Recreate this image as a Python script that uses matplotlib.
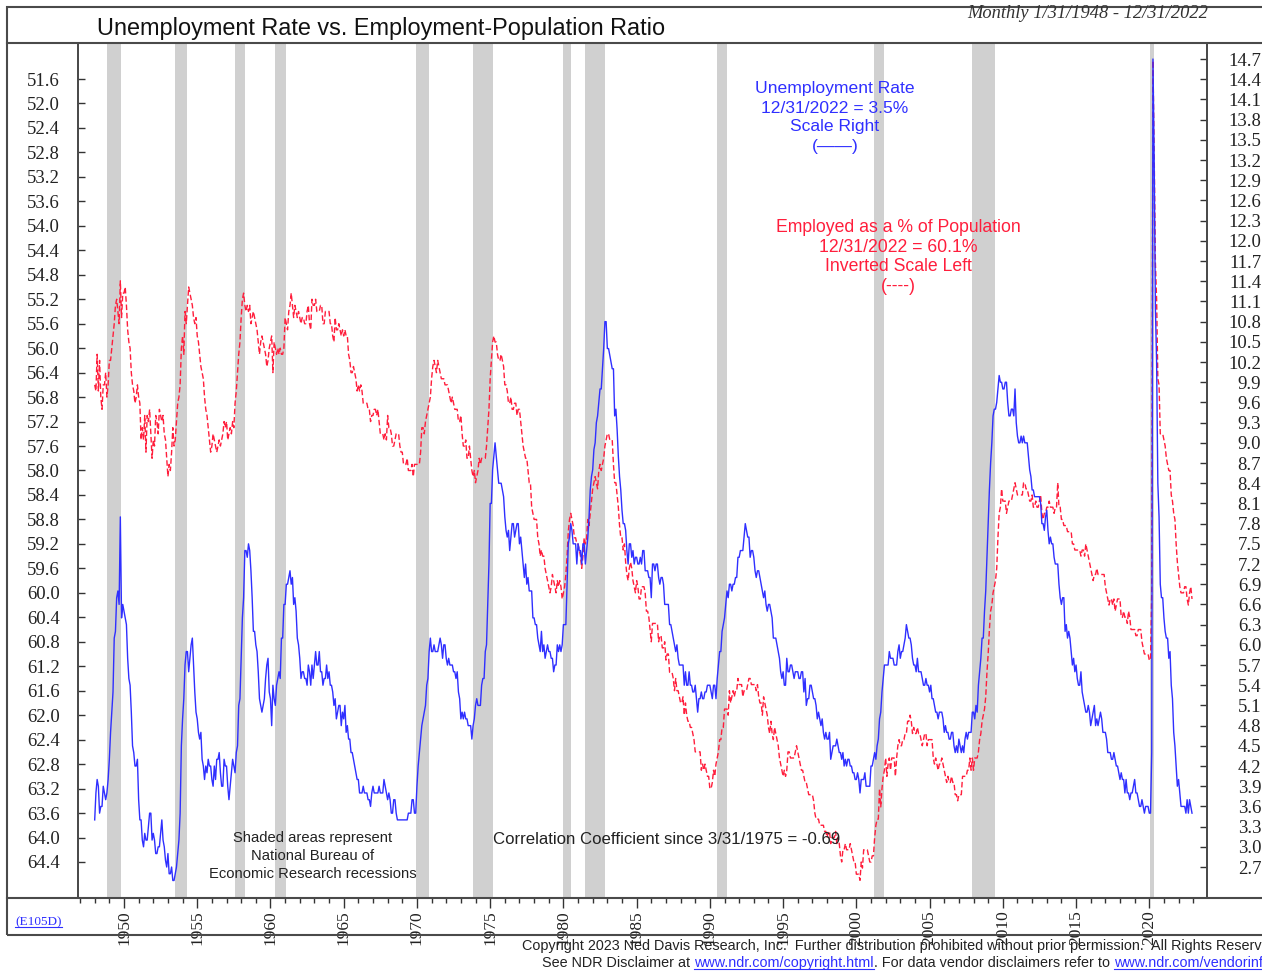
import numpy as np
import matplotlib.pyplot as plt
from matplotlib.lines import Line2D
from matplotlib.patches import Rectangle

plt.rcParams['font.family'] = ['Liberation Sans', 'DejaVu Sans']

W, H = 1262, 972

# Unemployment rate (%), monthly, 1948-01 .. 2022-12, one row per year
unemployment = [
    3.4, 3.8, 4.0, 3.9, 3.5, 3.6, 3.6, 3.9, 3.8, 3.7, 3.8, 4.0,  # 1948
    4.3, 4.7, 5.0, 5.3, 6.1, 6.2, 6.7, 6.8, 6.6, 7.9, 6.4, 6.6,  # 1949
    6.5, 6.4, 6.3, 5.8, 5.5, 5.4, 5.0, 4.5, 4.4, 4.2, 4.2, 4.3,  # 1950
    3.7, 3.4, 3.4, 3.1, 3.0, 3.2, 3.1, 3.1, 3.3, 3.5, 3.5, 3.1,  # 1951
    3.2, 3.1, 2.9, 2.9, 3.0, 3.0, 3.2, 3.4, 3.1, 3.0, 2.8, 2.7,  # 1952
    2.9, 2.6, 2.6, 2.7, 2.5, 2.5, 2.6, 2.7, 2.9, 3.1, 3.5, 4.5,  # 1953
    4.9, 5.2, 5.7, 5.9, 5.9, 5.6, 5.8, 6.0, 6.1, 5.7, 5.3, 5.0,  # 1954
    4.9, 4.7, 4.6, 4.7, 4.3, 4.2, 4.0, 4.2, 4.1, 4.3, 4.2, 4.2,  # 1955
    4.0, 3.9, 4.2, 4.0, 4.3, 4.3, 4.4, 4.1, 3.9, 3.9, 4.3, 4.2,  # 1956
    4.2, 3.9, 3.7, 3.9, 4.1, 4.3, 4.2, 4.1, 4.4, 4.5, 5.1, 5.2,  # 1957
    5.8, 6.4, 6.7, 7.4, 7.4, 7.3, 7.5, 7.4, 7.1, 6.7, 6.2, 6.2,  # 1958
    6.0, 5.9, 5.6, 5.2, 5.1, 5.0, 5.1, 5.2, 5.5, 5.7, 5.8, 5.3,  # 1959
    5.2, 4.8, 5.4, 5.2, 5.1, 5.4, 5.5, 5.6, 5.5, 6.1, 6.1, 6.6,  # 1960
    6.6, 6.9, 6.9, 7.0, 7.1, 6.9, 7.0, 6.6, 6.7, 6.5, 6.1, 6.0,  # 1961
    5.8, 5.5, 5.6, 5.6, 5.5, 5.5, 5.4, 5.7, 5.6, 5.4, 5.7, 5.5,  # 1962
    5.7, 5.9, 5.7, 5.7, 5.9, 5.6, 5.6, 5.4, 5.5, 5.5, 5.7, 5.5,  # 1963
    5.6, 5.4, 5.4, 5.3, 5.1, 5.2, 4.9, 5.0, 5.1, 5.1, 4.8, 5.0,  # 1964
    4.9, 5.1, 4.7, 4.8, 4.6, 4.6, 4.4, 4.4, 4.3, 4.2, 4.1, 4.0,  # 1965
    4.0, 3.8, 3.8, 3.8, 3.9, 3.8, 3.8, 3.8, 3.7, 3.7, 3.6, 3.8,  # 1966
    3.9, 3.8, 3.8, 3.8, 3.8, 3.9, 3.8, 3.8, 3.8, 4.0, 3.9, 3.8,  # 1967
    3.7, 3.8, 3.7, 3.5, 3.5, 3.7, 3.7, 3.5, 3.4, 3.4, 3.4, 3.4,  # 1968
    3.4, 3.4, 3.4, 3.4, 3.4, 3.5, 3.5, 3.5, 3.7, 3.7, 3.5, 3.5,  # 1969
    3.9, 4.2, 4.4, 4.6, 4.8, 4.9, 5.0, 5.1, 5.4, 5.5, 5.9, 6.1,  # 1970
    5.9, 5.9, 6.0, 5.9, 5.9, 5.9, 6.0, 6.1, 6.0, 5.8, 6.0, 6.0,  # 1971
    5.8, 5.7, 5.8, 5.7, 5.7, 5.7, 5.6, 5.6, 5.5, 5.6, 5.3, 5.2,  # 1972
    4.9, 5.0, 4.9, 5.0, 4.9, 4.9, 4.8, 4.8, 4.8, 4.6, 4.8, 4.9,  # 1973
    5.1, 5.2, 5.1, 5.1, 5.1, 5.4, 5.5, 5.5, 5.9, 6.0, 6.6, 7.2,  # 1974
    8.1, 8.1, 8.6, 8.8, 9.0, 8.8, 8.6, 8.4, 8.4, 8.4, 8.3, 8.2,  # 1975
    7.9, 7.7, 7.6, 7.7, 7.4, 7.6, 7.8, 7.8, 7.6, 7.7, 7.8, 7.8,  # 1976
    7.5, 7.6, 7.4, 7.2, 7.0, 7.2, 6.9, 7.0, 6.8, 6.8, 6.8, 6.4,  # 1977
    6.4, 6.3, 6.3, 6.1, 6.0, 5.9, 6.2, 5.9, 6.0, 5.8, 5.9, 6.0,  # 1978
    5.9, 5.9, 5.8, 5.8, 5.6, 5.7, 5.7, 6.0, 5.9, 6.0, 5.9, 6.0,  # 1979
    6.3, 6.3, 6.3, 6.9, 7.5, 7.6, 7.8, 7.7, 7.5, 7.5, 7.5, 7.2,  # 1980
    7.5, 7.4, 7.4, 7.2, 7.5, 7.5, 7.2, 7.4, 7.6, 7.9, 8.3, 8.5,  # 1981
    8.6, 8.9, 9.0, 9.3, 9.4, 9.6, 9.8, 9.8, 10.1, 10.4, 10.8, 10.8,  # 1982
    10.4, 10.4, 10.3, 10.2, 10.1, 10.1, 9.4, 9.5, 9.2, 8.8, 8.5, 8.3,  # 1983
    8.0, 7.8, 7.8, 7.7, 7.4, 7.2, 7.5, 7.5, 7.3, 7.4, 7.2, 7.3,  # 1984
    7.3, 7.2, 7.2, 7.3, 7.2, 7.4, 7.4, 7.1, 7.1, 7.1, 7.0, 7.0,  # 1985
    6.7, 7.2, 7.2, 7.1, 7.2, 7.2, 7.0, 6.9, 7.0, 7.0, 6.9, 6.6,  # 1986
    6.6, 6.6, 6.6, 6.3, 6.3, 6.2, 6.1, 6.0, 5.9, 6.0, 5.8, 5.7,  # 1987
    5.7, 5.7, 5.7, 5.4, 5.6, 5.4, 5.4, 5.6, 5.4, 5.4, 5.3, 5.3,  # 1988
    5.4, 5.2, 5.0, 5.2, 5.2, 5.3, 5.2, 5.2, 5.3, 5.3, 5.4, 5.4,  # 1989
    5.4, 5.3, 5.2, 5.4, 5.4, 5.2, 5.5, 5.7, 5.9, 5.9, 6.2, 6.3,  # 1990
    6.4, 6.6, 6.8, 6.7, 6.9, 6.9, 6.8, 6.9, 6.9, 7.0, 7.0, 7.3,  # 1991
    7.3, 7.4, 7.4, 7.4, 7.6, 7.8, 7.7, 7.6, 7.6, 7.3, 7.4, 7.4,  # 1992
    7.3, 7.1, 7.0, 7.1, 7.1, 7.0, 6.9, 6.8, 6.7, 6.8, 6.6, 6.5,  # 1993
    6.6, 6.6, 6.5, 6.4, 6.1, 6.1, 6.1, 6.0, 5.9, 5.8, 5.6, 5.5,  # 1994
    5.6, 5.4, 5.4, 5.8, 5.6, 5.6, 5.7, 5.7, 5.6, 5.5, 5.6, 5.6,  # 1995
    5.6, 5.5, 5.5, 5.6, 5.6, 5.3, 5.5, 5.1, 5.2, 5.2, 5.4, 5.4,  # 1996
    5.3, 5.2, 5.2, 5.1, 4.9, 5.0, 4.9, 4.8, 4.9, 4.7, 4.6, 4.7,  # 1997
    4.6, 4.6, 4.7, 4.3, 4.4, 4.5, 4.5, 4.5, 4.6, 4.5, 4.4, 4.4,  # 1998
    4.3, 4.4, 4.2, 4.3, 4.2, 4.3, 4.3, 4.2, 4.2, 4.1, 4.1, 4.0,  # 1999
    4.0, 4.1, 4.0, 3.8, 4.0, 4.0, 4.0, 4.1, 3.9, 3.9, 3.9, 3.9,  # 2000
    4.2, 4.2, 4.3, 4.4, 4.3, 4.5, 4.6, 4.9, 5.0, 5.3, 5.5, 5.7,  # 2001
    5.7, 5.7, 5.7, 5.9, 5.8, 5.8, 5.8, 5.7, 5.7, 5.7, 5.9, 6.0,  # 2002
    5.8, 5.9, 5.9, 6.0, 6.1, 6.3, 6.2, 6.1, 6.1, 6.0, 5.8, 5.7,  # 2003
    5.7, 5.6, 5.8, 5.6, 5.6, 5.6, 5.5, 5.4, 5.4, 5.5, 5.4, 5.4,  # 2004
    5.3, 5.4, 5.2, 5.2, 5.1, 5.0, 5.0, 4.9, 5.0, 5.0, 5.0, 4.9,  # 2005
    4.7, 4.8, 4.7, 4.7, 4.6, 4.6, 4.7, 4.7, 4.5, 4.4, 4.5, 4.4,  # 2006
    4.6, 4.5, 4.4, 4.5, 4.4, 4.6, 4.7, 4.6, 4.7, 4.7, 4.7, 5.0,  # 2007
    5.0, 4.9, 5.1, 5.0, 5.4, 5.6, 5.8, 6.1, 6.1, 6.5, 6.8, 7.3,  # 2008
    7.8, 8.3, 8.7, 9.0, 9.4, 9.5, 9.5, 9.6, 9.8, 10.0, 9.9, 9.9,  # 2009
    9.8, 9.8, 9.9, 9.9, 9.6, 9.4, 9.4, 9.5, 9.5, 9.4, 9.8, 9.3,  # 2010
    9.1, 9.0, 9.0, 9.1, 9.0, 9.1, 9.0, 9.0, 9.0, 8.8, 8.6, 8.5,  # 2011
    8.3, 8.3, 8.2, 8.2, 8.2, 8.2, 8.2, 8.1, 7.8, 7.8, 7.7, 7.9,  # 2012
    8.0, 7.7, 7.5, 7.6, 7.5, 7.5, 7.3, 7.2, 7.2, 7.2, 6.9, 6.7,  # 2013
    6.6, 6.7, 6.7, 6.2, 6.3, 6.1, 6.2, 6.1, 5.9, 5.7, 5.8, 5.6,  # 2014
    5.7, 5.5, 5.4, 5.4, 5.6, 5.3, 5.2, 5.1, 5.0, 5.0, 5.1, 5.0,  # 2015
    4.8, 4.9, 5.0, 5.1, 4.8, 4.9, 4.8, 4.9, 5.0, 4.9, 4.7, 4.7,  # 2016
    4.7, 4.6, 4.4, 4.4, 4.4, 4.3, 4.3, 4.4, 4.3, 4.2, 4.2, 4.1,  # 2017
    4.0, 4.1, 4.0, 4.0, 3.8, 4.0, 3.8, 3.8, 3.7, 3.8, 3.8, 3.9,  # 2018
    4.0, 3.8, 3.8, 3.7, 3.6, 3.6, 3.7, 3.6, 3.5, 3.6, 3.6, 3.6,  # 2019
    3.5, 3.5, 4.4, 14.7, 13.2, 11.0, 10.2, 8.4, 7.9, 6.9, 6.7, 6.7,  # 2020
    6.4, 6.2, 6.1, 6.1, 5.8, 5.9, 5.4, 5.2, 4.7, 4.5, 4.2, 3.9,  # 2021
    4.0, 3.8, 3.6, 3.6, 3.6, 3.6, 3.5, 3.7, 3.5, 3.7, 3.6, 3.5,  # 2022
]

# Employment-population ratio (%), monthly, 1948-01 .. 2022-12
emp_pop = [
    56.6, 56.7, 56.1, 56.7, 56.2, 56.8, 57.0, 56.6, 56.6, 56.4, 56.8, 56.6,  # 1948
    56.2, 56.2, 56.0, 55.8, 55.6, 55.3, 55.2, 55.4, 55.6, 54.9, 55.5, 55.1,  # 1949
    55.1, 55.0, 55.3, 55.7, 55.9, 56.0, 56.4, 56.6, 56.7, 56.9, 56.8, 56.6,  # 1950
    56.8, 56.9, 57.5, 57.3, 57.5, 57.1, 57.7, 57.1, 57.2, 57.0, 57.4, 57.8,  # 1951
    57.5, 57.6, 57.1, 57.2, 57.4, 57.0, 57.1, 57.2, 57.1, 57.4, 57.5, 57.8,  # 1952
    58.1, 57.9, 58.0, 57.7, 57.3, 57.6, 57.5, 57.2, 56.9, 56.8, 56.6, 56.0,  # 1953
    55.8, 56.1, 55.4, 55.6, 55.3, 55.0, 55.1, 55.2, 55.3, 55.5, 55.6, 55.5,  # 1954
    55.8, 55.9, 56.1, 56.3, 56.4, 56.5, 56.8, 57.0, 57.1, 57.3, 57.5, 57.7,  # 1955
    57.6, 57.4, 57.5, 57.6, 57.7, 57.6, 57.5, 57.6, 57.5, 57.4, 57.2, 57.3,  # 1956
    57.2, 57.5, 57.4, 57.3, 57.4, 57.2, 57.3, 56.9, 56.7, 56.4, 56.1, 55.9,  # 1957
    55.5, 55.2, 55.1, 55.3, 55.4, 55.3, 55.4, 55.3, 55.6, 55.5, 55.4, 55.5,  # 1958
    55.6, 55.7, 55.9, 56.1, 55.9, 55.8, 55.9, 56.0, 56.1, 56.3, 56.2, 56.0,  # 1959
    55.9, 55.8, 56.4, 55.9, 56.0, 56.1, 56.0, 56.1, 56.0, 56.1, 56.1, 56.0,  # 1960
    55.5, 55.6, 55.7, 55.4, 55.3, 55.1, 55.3, 55.5, 55.3, 55.4, 55.5, 55.4,  # 1961
    55.5, 55.6, 55.5, 55.5, 55.6, 55.6, 55.4, 55.3, 55.6, 55.7, 55.2, 55.3,  # 1962
    55.3, 55.2, 55.4, 55.4, 55.4, 55.3, 55.3, 55.6, 55.6, 55.4, 55.4, 55.4,  # 1963
    55.4, 55.6, 55.6, 55.8, 55.9, 55.5, 55.7, 55.7, 55.6, 55.7, 55.8, 55.7,  # 1964
    55.8, 55.7, 55.8, 55.8, 56.1, 56.2, 56.4, 56.4, 56.3, 56.4, 56.5, 56.7,  # 1965
    56.6, 56.7, 56.6, 56.7, 56.9, 56.9, 56.9, 56.9, 57.0, 57.0, 57.2, 57.1,  # 1966
    57.1, 57.0, 57.0, 57.1, 57.0, 57.2, 57.4, 57.4, 57.4, 57.5, 57.4, 57.5,  # 1967
    57.1, 57.3, 57.3, 57.4, 57.6, 57.6, 57.5, 57.4, 57.4, 57.4, 57.6, 57.7,  # 1968
    57.7, 57.9, 57.9, 57.9, 57.8, 58.0, 58.0, 58.0, 57.9, 58.1, 57.9, 57.9,  # 1969
    57.9, 57.9, 57.9, 57.7, 57.3, 57.3, 57.4, 57.2, 57.1, 57.0, 56.9, 56.8,  # 1970
    56.5, 56.3, 56.2, 56.3, 56.4, 56.2, 56.3, 56.4, 56.5, 56.5, 56.5, 56.6,  # 1971
    56.6, 56.6, 56.7, 56.8, 56.9, 56.8, 56.9, 57.0, 57.0, 57.0, 57.2, 57.2,  # 1972
    57.1, 57.4, 57.6, 57.6, 57.5, 57.8, 57.8, 57.6, 57.8, 58.0, 58.1, 58.0,  # 1973
    58.2, 58.1, 58.0, 57.8, 57.9, 57.8, 57.8, 57.8, 57.8, 57.6, 57.3, 57.0,  # 1974
    56.5, 56.2, 55.9, 55.8, 55.9, 55.9, 56.1, 56.2, 56.2, 56.1, 56.2, 56.3,  # 1975
    56.6, 56.6, 56.7, 56.9, 56.9, 56.8, 57.0, 57.0, 56.9, 56.9, 57.1, 57.0,  # 1976
    57.0, 57.2, 57.4, 57.6, 57.7, 57.8, 57.8, 58.0, 58.2, 58.2, 58.6, 58.7,  # 1977
    58.8, 58.8, 58.8, 59.1, 59.2, 59.4, 59.3, 59.4, 59.4, 59.6, 59.7, 59.8,  # 1978
    59.9, 60.0, 59.9, 59.7, 59.8, 59.9, 60.0, 59.8, 59.9, 59.8, 59.9, 60.1,  # 1979
    60.0, 59.9, 59.7, 59.4, 59.0, 58.8, 58.7, 58.8, 58.9, 59.1, 59.1, 59.2,  # 1980
    59.2, 59.3, 59.4, 59.6, 59.4, 59.1, 59.2, 59.1, 58.8, 58.9, 58.7, 58.5,  # 1981
    58.3, 58.2, 58.1, 58.2, 58.3, 58.0, 57.9, 58.0, 57.9, 57.8, 57.6, 57.5,  # 1982
    57.4, 57.4, 57.5, 57.5, 57.5, 57.9, 58.2, 58.2, 58.4, 58.6, 58.9, 59.1,  # 1983
    59.1, 59.3, 59.2, 59.5, 59.7, 59.8, 59.6, 59.5, 59.6, 59.8, 59.9, 60.0,  # 1984
    59.8, 59.9, 60.1, 60.1, 59.9, 59.9, 59.9, 60.0, 60.3, 60.3, 60.4, 60.6,  # 1985
    60.8, 60.5, 60.5, 60.5, 60.5, 60.5, 60.8, 60.7, 60.7, 60.9, 60.9, 60.8,  # 1986
    61.1, 61.0, 61.0, 61.3, 61.3, 61.3, 61.4, 61.6, 61.4, 61.6, 61.6, 61.7,  # 1987
    61.8, 61.8, 61.7, 62.0, 61.8, 62.0, 62.1, 62.1, 62.2, 62.2, 62.3, 62.4,  # 1988
    62.6, 62.6, 62.6, 62.6, 62.6, 62.9, 62.8, 62.9, 62.8, 62.9, 63.0, 63.0,  # 1989
    63.2, 63.2, 63.1, 62.9, 63.0, 62.8, 62.7, 62.6, 62.4, 62.4, 62.2, 62.2,  # 1990
    61.9, 61.9, 61.9, 62.0, 61.6, 61.8, 61.7, 61.6, 61.7, 61.6, 61.6, 61.4,  # 1991
    61.5, 61.5, 61.5, 61.7, 61.6, 61.6, 61.6, 61.5, 61.4, 61.4, 61.5, 61.5,  # 1992
    61.5, 61.5, 61.6, 61.5, 61.7, 61.8, 61.8, 62.0, 61.7, 61.8, 61.9, 62.0,  # 1993
    62.2, 62.3, 62.1, 62.3, 62.4, 62.2, 62.3, 62.4, 62.5, 62.7, 62.8, 62.9,  # 1994
    63.0, 62.9, 63.0, 62.9, 62.6, 62.6, 62.7, 62.7, 62.7, 62.7, 62.6, 62.5,  # 1995
    62.6, 62.7, 62.8, 62.9, 62.9, 63.0, 63.1, 63.1, 63.2, 63.3, 63.3, 63.3,  # 1996
    63.3, 63.4, 63.6, 63.7, 63.7, 63.7, 63.8, 63.8, 63.8, 63.8, 63.9, 63.9,  # 1997
    64.0, 63.9, 63.9, 64.1, 64.0, 64.0, 64.0, 63.9, 64.1, 64.0, 64.1, 64.3,  # 1998
    64.4, 64.2, 64.2, 64.1, 64.2, 64.2, 64.2, 64.1, 64.2, 64.3, 64.4, 64.4,  # 1999
    64.6, 64.6, 64.6, 64.7, 64.4, 64.5, 64.2, 64.2, 64.2, 64.2, 64.3, 64.4,  # 2000
    64.4, 64.3, 64.3, 64.0, 63.8, 63.7, 63.7, 63.2, 63.5, 63.2, 63.0, 62.9,  # 2001
    62.7, 63.0, 62.8, 62.7, 62.9, 62.7, 62.7, 62.7, 63.0, 62.7, 62.5, 62.4,  # 2002
    62.5, 62.5, 62.4, 62.4, 62.3, 62.3, 62.1, 62.1, 62.0, 62.1, 62.3, 62.2,  # 2003
    62.3, 62.3, 62.2, 62.3, 62.3, 62.4, 62.5, 62.4, 62.3, 62.3, 62.5, 62.4,  # 2004
    62.4, 62.4, 62.4, 62.7, 62.8, 62.7, 62.8, 62.9, 62.8, 62.8, 62.7, 62.8,  # 2005
    62.9, 63.0, 63.1, 63.0, 63.1, 63.1, 63.0, 63.1, 63.1, 63.3, 63.3, 63.4,  # 2006
    63.3, 63.3, 63.3, 63.0, 63.0, 63.0, 63.0, 62.9, 62.9, 62.7, 62.9, 62.7,  # 2007
    62.9, 62.7, 62.7, 62.7, 62.6, 62.4, 62.3, 62.1, 62.0, 61.9, 61.7, 61.3,  # 2008
    61.0, 60.6, 60.3, 60.2, 60.0, 59.9, 59.8, 59.6, 59.1, 58.7, 58.6, 58.3,  # 2009
    58.5, 58.5, 58.5, 58.7, 58.6, 58.5, 58.5, 58.5, 58.4, 58.3, 58.2, 58.3,  # 2010
    58.4, 58.4, 58.4, 58.4, 58.4, 58.2, 58.2, 58.3, 58.3, 58.4, 58.5, 58.5,  # 2011
    58.4, 58.6, 58.6, 58.5, 58.6, 58.6, 58.5, 58.4, 58.7, 58.8, 58.7, 58.7,  # 2012
    58.6, 58.6, 58.5, 58.6, 58.6, 58.6, 58.7, 58.6, 58.6, 58.2, 58.6, 58.6,  # 2013
    58.8, 58.8, 58.9, 58.9, 58.9, 59.0, 59.0, 59.0, 59.0, 59.2, 59.2, 59.3,  # 2014
    59.3, 59.3, 59.3, 59.3, 59.4, 59.3, 59.3, 59.4, 59.2, 59.3, 59.4, 59.5,  # 2015
    59.6, 59.7, 59.8, 59.7, 59.7, 59.6, 59.7, 59.7, 59.7, 59.7, 59.7, 59.7,  # 2016
    59.9, 60.0, 60.1, 60.2, 60.1, 60.1, 60.2, 60.1, 60.3, 60.2, 60.1, 60.1,  # 2017
    60.1, 60.4, 60.4, 60.3, 60.4, 60.4, 60.5, 60.3, 60.4, 60.6, 60.6, 60.6,  # 2018
    60.6, 60.7, 60.7, 60.6, 60.6, 60.6, 60.8, 60.9, 61.0, 61.0, 61.0, 61.0,  # 2019
    61.1, 61.1, 60.0, 51.3, 52.8, 54.6, 55.2, 56.5, 56.6, 57.4, 57.4, 57.4,  # 2020
    57.5, 57.6, 57.8, 57.9, 58.0, 58.0, 58.4, 58.5, 58.7, 58.8, 59.2, 59.5,  # 2021
    59.7, 59.9, 60.0, 60.0, 60.0, 59.9, 59.9, 60.1, 60.2, 60.0, 59.9, 60.1,  # 2022
]

# NBER recessions (decimal years, peak -> trough)
rec_start = [1948.83, 1953.50, 1957.58, 1960.29, 1969.92, 1973.83, 1980.00, 1981.50, 1990.50, 2001.21, 2007.92, 2020.08]
rec_end = [1949.79, 1954.33, 1958.25, 1961.08, 1970.83, 1975.17, 1980.50, 1982.83, 1991.17, 2001.87, 2009.46, 2020.30]

left_ticks = [round(51.6 + 0.4 * i, 1) for i in range(33)]
right_ticks = [round(2.7 + 0.3 * i, 1) for i in range(41)]
year_ticks = list(range(1950, 2021, 5))

blue = '#2f2fff'
red = '#ff1e3c'
frame = '#4a4a4a'
serif = ['Liberation Serif', 'DejaVu Serif']


def fx(px):
    return px / W


def fy(py):
    return 1 - py / H


dates = 1948 + np.arange(len(unemployment)) / 12.0

fig = plt.figure(figsize=(W / 100, H / 100), dpi=100)
ax = fig.add_axes([fx(78), fy(898), (1207 - 78) / W, (898 - 43) / H])
ax.set_xlim(1946.86, 2023.94)
ax.set_ylim(64.989, 51.011)  # inverted left scale
ax2 = ax.twinx()
ax2.set_ylim(2.240, 14.938)

for s, e in zip(rec_start, rec_end):
    ax.axvspan(s, e, color='#d0d0d0', lw=0, zorder=0)

ax.plot(dates, emp_pop, color=red, lw=1.0, ls=(0, (4, 2)), zorder=3)
ax2.plot(dates, unemployment, color=blue, lw=1.0, zorder=3)

# left axis
ax.set_yticks(left_ticks)
ax.set_yticklabels(['%.1f' % v for v in left_ticks], family=serif, fontsize=13.5, color='#222')
ax.tick_params(axis='y', direction='in', length=5, width=1, pad=13, color='#333')
# right axis
ax2.set_yticks(right_ticks)
ax2.set_yticklabels(['%.1f' % v for v in right_ticks], family=serif, fontsize=13.5, color='#222', ha='right')
ax2.tick_params(axis='y', direction='in', length=5, width=1, pad=39, color='#333')
# x axis
ax.set_xticks(year_ticks)
ax.set_xticks(range(1947, 2024), minor=True)
ax.set_xticklabels([str(y) for y in year_ticks], rotation=90, family=serif, fontsize=12.5, color='#222')
ax.tick_params(axis='x', which='major', direction='out', length=7, width=1, pad=2, color='#333')
ax.tick_params(axis='x', which='minor', direction='out', length=3.5, width=1, color='#333')

for a in (ax, ax2):
    for sp in a.spines.values():
        sp.set_color(frame)
        sp.set_linewidth(1.3)

# outer frame and bands
fig.add_artist(Rectangle((fx(7), fy(935)), fx(1400), (935 - 7) / H, transform=fig.transFigure,
                         fill=False, edgecolor=frame, lw=1.5))
for yy in (43, 898):
    fig.add_artist(Line2D([fx(7), 1.0], [fy(yy), fy(yy)], transform=fig.transFigure, color=frame, lw=1.5))

fig.text(fx(97), fy(29), 'Unemployment Rate vs. Employment-Population Ratio', fontsize=16.9,
         va='center', ha='left', color='#111')
fig.text(fx(967), fy(14), 'Monthly 1/31/1948 - 12/31/2022', family=serif, style='italic',
         fontsize=13.3, va='center', ha='left', color='#333')

blue_lines = ['Unemployment Rate', '12/31/2022 = 3.5%', 'Scale Right', '(\u2014\u2014)']
for txt, yy in zip(blue_lines, [89, 108, 127, 147]):
    fig.text(fx(835), fy(yy), txt, color=blue, fontsize=12.6, ha='center', va='center')

red_lines = ['Employed as a % of Population', '12/31/2022 = 60.1%', 'Inverted Scale Left', '(----)']
for txt, yy in zip(red_lines, [228, 247, 266, 286]):
    fig.text(fx(898), fy(yy), txt, color=red, fontsize=12.7, ha='center', va='center')

note_lines = ['Shaded areas represent', 'National Bureau of', 'Economic Research recessions']
for txt, yy in zip(note_lines, [838, 856, 874]):
    fig.text(fx(313), fy(yy), txt, color='#222', fontsize=10.6, ha='center', va='center')

fig.text(fx(493), fy(840), 'Correlation Coefficient since 3/31/1975 = -0.69', color='#222',
         fontsize=12.1, ha='left', va='center')

renderer = fig.canvas.get_renderer()


def chain(x, y, parts, size, fam=None):
    for s, c, link in parts:
        t = fig.text(fx(x), fy(y), s, color=c, fontsize=size, ha='left', va='center', family=fam)
        bb = t.get_window_extent(renderer)
        if link:
            fig.add_artist(Line2D([bb.x0 / W, bb.x1 / W], [(bb.y0 + 1) / H, (bb.y0 + 1) / H],
                                  transform=fig.transFigure, color=c, lw=0.8))
        x += bb.width


chain(15, 922, [('(E105D)', blue, True)], 9.5, serif)
chain(522, 946, [('Copyright 2023 Ned Davis Research, Inc.  Further distribution prohibited '
                  'without prior permission.  All Rights Reserved.', '#222', False)], 10.4)
chain(542, 963, [('See NDR Disclaimer at ', '#222', False),
                 ('www.ndr.com/copyright.html', blue, True),
                 ('. For data vendor disclaimers refer to ', '#222', False),
                 ('www.ndr.com/vendorinfo/', blue, True)], 10.4)

fig.savefig('out.png', dpi=100)
